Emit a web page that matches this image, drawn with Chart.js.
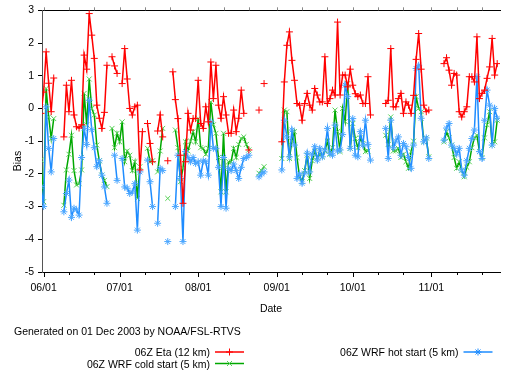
<!DOCTYPE html>
<html>
<head>
<meta charset="utf-8">
<script src="https://cdn.jsdelivr.net/npm/chart.js@4/dist/chart.umd.min.js"></script>
<style>
  html, body { margin: 0; padding: 0; background: #fff; }
  canvas { display: block; }
</style>
</head>
<body>
<canvas id="myChart" width="505" height="372"></canvas>
<script>
// x = days since 31 May 2003 (06Z runs), one value per day, null = no run
var monthTicks = [1, 31, 62, 93, 123, 154];
var monthLabels = ['06/01', '07/01', '08/01', '09/01', '10/01', '11/01'];
var minorTicks = [11, 21, 41, 51, 72, 82, 103, 113, 133, 143, 164, 174];

var etaBias = [
    -0.15, 0.5, 1.73, 0.77, -0.1, 0.93, null, null, null, -0.87,
    0.71, -0.1, 0.86, -0.2, -0.56, -0.6, -0.5, 1.63, 1.2, 2.9,
    2.24, 1.53, 0.1, -0.3, -0.61, -0.12, 1.32, null, 1.58, 1.3,
    1.07, null, 0.76, 1.83, 0.9, 0.0, -0.2, 0.05, 0.1, -1.88,
    -0.71, null, -0.46, -1.07, -1.63, null, -0.69, -0.2, -0.87, null,
    -1.6, null, 1.12, 0.27, -0.31, -1.43, -2.9, -1.63, -0.15, -0.66,
    -0.31, -0.31, 0.86, -0.46, -0.61, 0.05, -0.41, 1.42, 0.3, 1.32,
    0.1, -0.3, 0.36, -0.2, -0.76, -0.76, -0.05, -0.71, -0.3, 0.56,
    -0.15, null, -1.27, null, null, null, -0.05, null, 0.76, null,
    null, null, null, null, null, -1.02, 0.81, 1.93, 2.34, 1.47,
    0.86, 0.15, 0.1, -0.36, 0.15, 0.46, 0.1, -0.05, 0.61, 0.41,
    0.2, 0.2, 1.58, 0.15, 0.3, 0.56, 0.41, 2.64, 0.41, 1.02,
    1.02, 0.66, 1.2, 0.71, 0.45, 0.36, 0.41, 0.15, 0.15, 0.97,
    -0.2, null, null, null, null, null, 0.15, 0.25, 1.83, 0.05,
    0.05, 0.3, 0.46, -0.15, 0.2, 0.1, -0.15, 0.4, 1.5, 2.29,
    1.2, 0.1, -0.1, -0.05, null, null, null, null, null, 1.37,
    1.55, 1.17, 0.71, 1.07, 1.02, -0.1, -0.26, -0.1, 0.05, 0.97,
    0.97, 0.81, 2.19, 0.3, 0.46, 0.56, 0.92, 1.27, 2.14, 1.02,
    1.37, null
];

var wrfColdBias = [
    -1.58, -2.85, 0.61, -0.26, -0.92, -0.31, null, null, null, -2.96,
    -1.88, -1.4, -0.82, -1.9, -2.34, -2.3, -1.88, 0.46, -0.5, 0.9,
    0.0, -0.2, -1.12, -1.6, -2.04, -2.2, -2.39, null, -0.61, -1.2,
    -0.76, -1.02, -0.41, -1.63, -1.3, -1.43, -1.9, -1.63, -2.75, -1.78,
    null, null, -1.22, -1.63, -1.6, null, -1.94, -1.3, -0.61, null,
    -2.75, null, null, -0.66, -1.2, -2.24, -1.83, -1.02, -1.3, -1.0,
    -0.71, -1.02, -0.31, -1.2, -1.22, -1.4, -1.22, 0.2, -0.5, -0.76,
    -1.5, -2.55, -0.76, -2.55, -1.63, -1.63, -1.22, -1.5, -1.1, -0.92,
    -0.87, -1.1, -1.27, null, null, null, -1.98, -1.9, -1.78, null,
    null, null, null, null, null, -1.53, -0.05, -0.1, -1.53, -1.0,
    -0.71, -1.5, -2.09, -2.24, -1.9, -1.43, -2.14, -1.6, -1.32, -1.5,
    -1.4, -1.48, -1.3, -1.0, -1.4, -1.2, -0.05, -0.71, -1.32, 0.0,
    -0.4, 0.76, -1.22, -0.46, -0.92, -1.2, -0.9, -1.07, -1.32, -1.3,
    null, null, null, null, null, null, -0.82, -1.1, -0.26, -1.3,
    -1.3, -1.22, -1.5, -1.4, -1.63, -1.83, -1.32, -1.0, 0.36, 0.0,
    -0.1, -1.02, -0.9, -1.48, null, null, null, null, null, -1.02,
    -0.71, -0.9, -1.12, -1.5, -1.83, -1.63, -1.9, -2.09, -1.8, -1.63,
    -1.2, -0.9, -0.82, -1.32, -1.5, -0.9, -0.5, -0.1, -1.12, -1.02,
    -0.36, null
];

var wrfHotBias = [
    -2.39, -3.0, 0.05, -1.22, -1.94, -0.92, null, null, null, -3.16,
    -2.6, -2.19, -3.33, -3.05, -3.1, -3.26, -1.5, -0.61, -1.1, 0.25,
    -0.65, -1.2, -1.78, -1.6, -2.04, -2.4, -2.9, null, null, -1.43,
    -2.2, null, -1.53, -2.4, -2.44, -2.6, -2.55, -2.3, -3.72, -1.94,
    null, null, -1.58, -2.24, -3.0, null, -3.51, -1.83, -1.9, null,
    -4.07, null, null, -3.0, -1.43, -2.14, -4.07, -1.32, -1.5, -1.63,
    -1.5, -1.68, -1.63, -2.04, -1.6, -1.63, -2.04, -0.41, -1.22, -1.22,
    -1.8, -3.0, -1.5, -3.05, -1.83, -1.9, -1.7, -1.9, -2.14, -1.8,
    -1.53, -1.5, -1.43, null, null, null, -2.09, -2.0, -1.94, null,
    null, null, null, null, null, -1.88, -0.36, -0.87, -1.48, -0.66,
    -1.12, -2.14, -2.0, -2.29, -1.98, -1.37, -1.94, -1.4, -1.17, -1.58,
    -1.22, -1.48, -1.27, -0.61, -1.37, -1.43, -0.51, -1.3, -1.27, -0.8,
    0.71, 0.36, -1.22, -0.31, -1.43, -1.48, -0.71, -1.12, -0.36, -1.1,
    -1.58, null, null, null, null, null, -0.61, -1.53, -0.36, -1.2,
    -1.0, -0.87, -1.43, -1.07, -1.17, -1.5, -1.83, -1.12, 1.22, 1.32,
    -0.3, -1.02, -0.9, -1.53, null, null, null, null, null, -0.97,
    -0.6, -0.46, -1.12, -1.22, -1.4, -1.22, -1.88, -2.04, -1.6, -1.22,
    -0.92, -0.66, 0.97, -1.32, -1.53, -0.36, 0.56, 0.1, -1.12, 0.0,
    -0.3, null
];

var days = etaBias.map(function (v, i) { return i; });

var RED = '#ff0000';
var GREEN = '#00a800';
var BLUE = '#1e8cff';
var FONT = "'Liberation Sans', Arial, sans-serif";

Chart.defaults.font.family = FONT;
Chart.defaults.font.size = 10.5;
Chart.defaults.color = '#000';

var allTicks = monthTicks.concat(minorTicks).sort(function (a, b) { return a - b; });

// hand drawn bits: tick marks of different length, axis titles, footer and legend
var decor = {
    id: 'decor',
    afterDraw: function (chart) {
        var ctx = chart.ctx;
        var a = chart.chartArea;
        var x = chart.scales.x;
        ctx.save();
        ctx.lineWidth = 1;
        allTicks.forEach(function (t) {
            var px = Math.round(x.getPixelForValue(t)) + 0.5;
            var major = monthTicks.indexOf(t) >= 0;
            ctx.strokeStyle = '#000';
            ctx.beginPath();
            ctx.moveTo(px, a.bottom);
            ctx.lineTo(px, a.bottom + (major ? 5 : 3));
            ctx.stroke();
            ctx.strokeStyle = '#888';
            ctx.beginPath();
            ctx.moveTo(px, a.top);
            ctx.lineTo(px, a.top - 3);
            ctx.stroke();
        });

        ctx.fillStyle = '#000';
        ctx.font = '10.5px ' + FONT;
        ctx.textBaseline = 'alphabetic';
        ctx.textAlign = 'center';
        ctx.fillText('Date', (a.left + a.right) / 2, 311.5);

        ctx.save();
        ctx.translate(20.5, 161);
        ctx.rotate(-Math.PI / 2);
        ctx.fillText('Bias', 0, 0);
        ctx.restore();

        ctx.textAlign = 'left';
        ctx.fillText('Generated on 01 Dec 2003 by NOAA/FSL-RTVS', 14, 334.5);

        var items = [
            { text: '06Z Eta (12 km)', color: RED, style: 'plus', tx: 210, y: 352 },
            { text: '06Z WRF cold start (5 km)', color: GREEN, mark: '#55d055', style: 'x', tx: 210, y: 363.5 },
            { text: '06Z WRF hot start (5 km)', color: BLUE, style: 'star', tx: 458.5, y: 352 }
        ];
        items.forEach(function (it) {
            ctx.textAlign = 'right';
            ctx.fillStyle = '#000';
            ctx.fillText(it.text, it.tx, it.y + 4);
            var x0 = it.tx + 5, x1 = it.tx + 34, cx = (x0 + x1) / 2;
            ctx.strokeStyle = it.color;
            ctx.lineWidth = 1.5;
            ctx.beginPath();
            ctx.moveTo(x0, it.y);
            ctx.lineTo(x1, it.y);
            ctx.stroke();
            ctx.lineWidth = 1;
            ctx.strokeStyle = it.mark || it.color;
            ctx.beginPath();
            if (it.style !== 'x') {
                ctx.moveTo(cx - 3.5, it.y); ctx.lineTo(cx + 3.5, it.y);
                ctx.moveTo(cx, it.y - 3.5); ctx.lineTo(cx, it.y + 3.5);
            }
            if (it.style !== 'plus') {
                ctx.moveTo(cx - 2.5, it.y - 2.5); ctx.lineTo(cx + 2.5, it.y + 2.5);
                ctx.moveTo(cx - 2.5, it.y + 2.5); ctx.lineTo(cx + 2.5, it.y - 2.5);
            }
            ctx.stroke();
        });
        ctx.restore();
    }
};

var ctx = document.getElementById('myChart');
var myChart = new Chart(ctx, {
    type: 'line',
    data: {
        labels: days,
        datasets: [{
            label: '06Z Eta (12 km)',
            data: etaBias,
            borderColor: RED,
            borderWidth: 1.5,
            pointStyle: 'cross',
            pointRadius: 3.5,
            pointBorderColor: RED,
            pointBorderWidth: 1,
            order: 0
        },
        {
            label: '06Z WRF cold start (5 km)',
            data: wrfColdBias,
            borderColor: GREEN,
            borderWidth: 1.5,
            pointStyle: 'crossRot',
            pointRadius: 3.5,
            pointBorderColor: '#55d055',
            pointBorderWidth: 1,
            order: 2
        },
        {
            label: '06Z WRF hot start (5 km)',
            data: wrfHotBias,
            borderColor: BLUE,
            borderWidth: 1.5,
            pointStyle: 'star',
            pointRadius: 3.5,
            pointBorderColor: '#4aa6ff',
            pointBorderWidth: 1,
            order: 1
        }]
    },
    options: {
        responsive: false,
        animation: false,
        devicePixelRatio: 1,
        layout: { padding: 0 },
        plugins: {
            legend: { display: false },
            tooltip: { enabled: false }
        },
        scales: {
            x: {
                type: 'linear',
                position: 'bottom',
                min: 0.37,
                max: 181.1,
                afterBuildTicks: function (scale) {
                    scale.ticks = allTicks.map(function (v) { return { value: v }; });
                },
                afterFit: function (scale) { scale.height = 100; },
                ticks: {
                    autoSkip: false,
                    maxRotation: 0,
                    padding: 5,
                    callback: function (v) {
                        var k = monthTicks.indexOf(v);
                        return k >= 0 ? monthLabels[k] : '';
                    }
                },
                grid: { display: false, drawTicks: true, tickLength: 5 },
                border: { display: true, color: '#000', width: 1 }
            },
            x2: {
                type: 'linear',
                position: 'top',
                min: 0.37,
                max: 181.1,
                afterFit: function (scale) { scale.height = 10; },
                ticks: { display: false },
                grid: { display: false },
                border: { display: true, color: '#000', width: 1 }
            },
            y: {
                min: -5,
                max: 3,
                afterFit: function (scale) { scale.width = 42; },
                ticks: { stepSize: 1, padding: 4 },
                grid: { drawOnChartArea: false, drawTicks: true, tickLength: 4, color: '#000' },
                border: { display: true, color: '#555', width: 1 }
            }
        }
    },
    plugins: [decor]
});
</script>
</body>
</html>
